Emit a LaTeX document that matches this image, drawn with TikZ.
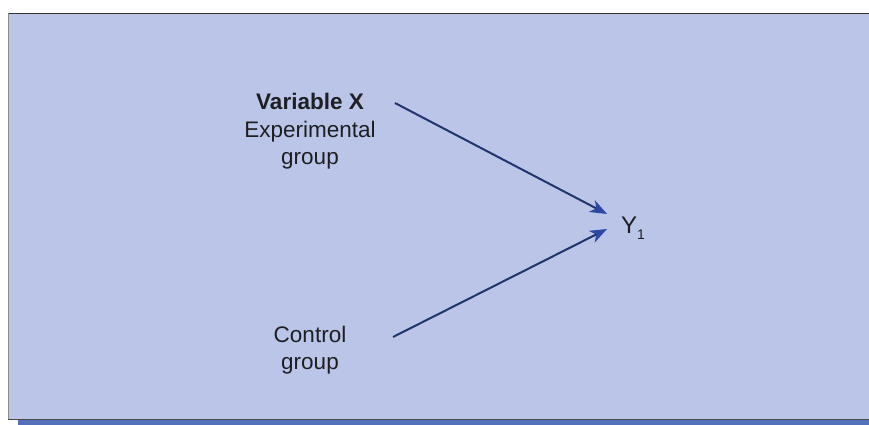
\documentclass[tikz,border=0pt]{standalone}
\usepackage{fontspec}
\setmainfont{Liberation Sans}
\usetikzlibrary{arrows.meta}
\definecolor{bgblue}{RGB}{186,197,232}
\definecolor{navy}{RGB}{34,52,110}
\definecolor{headblue}{RGB}{44,72,160}
\definecolor{stripblue}{RGB}{84,112,186}
\definecolor{txt}{RGB}{30,30,35}
\begin{document}
\begin{tikzpicture}[x=1pt,y=-1pt,
  lbl/.style={font=\fontsize{22.5}{27}\selectfont, text=txt, align=center, inner sep=0pt},
  conn/.style={navy, line width=2pt, -{Stealth[length=17pt,width=13pt,inset=5pt,color=headblue]}}]
\useasboundingbox (0,0) rectangle (869,425);
\fill[white] (0,0) rectangle (869,425);
\fill[bgblue] (8,13) rectangle (869,419);
\fill[stripblue] (18,419) rectangle (869,425);
\draw[black!80, line width=1.2pt] (8,13.5) -- (869,13.5);
\draw[black!45, line width=0.6pt] (8,13) -- (8,419);
\draw[black!70, line width=1pt] (8,419) -- (869,419);
\node[lbl, font=\fontsize{22.5}{27}\selectfont\bfseries, anchor=base] (vx) at (310,110) {Variable X};
\node[lbl, anchor=base] (exp) at (310,164) {Experimental\\group};
\node[lbl, anchor=base] (ctl) at (310,369) {Control\\group};
\node[lbl, font=\fontsize{24}{27}\selectfont, anchor=base west] (y) at (621,233) {Y\raisebox{-6pt}{\fontsize{14}{16}\selectfont 1}};
\coordinate (e1) at (395,103);
\coordinate (c1) at (393,337);
\coordinate (t1) at (607,214);
\coordinate (t2) at (607,229);
\draw[conn] (e1) -- (t1);
\draw[conn] (c1) -- (t2);
\end{tikzpicture}
\end{document}
